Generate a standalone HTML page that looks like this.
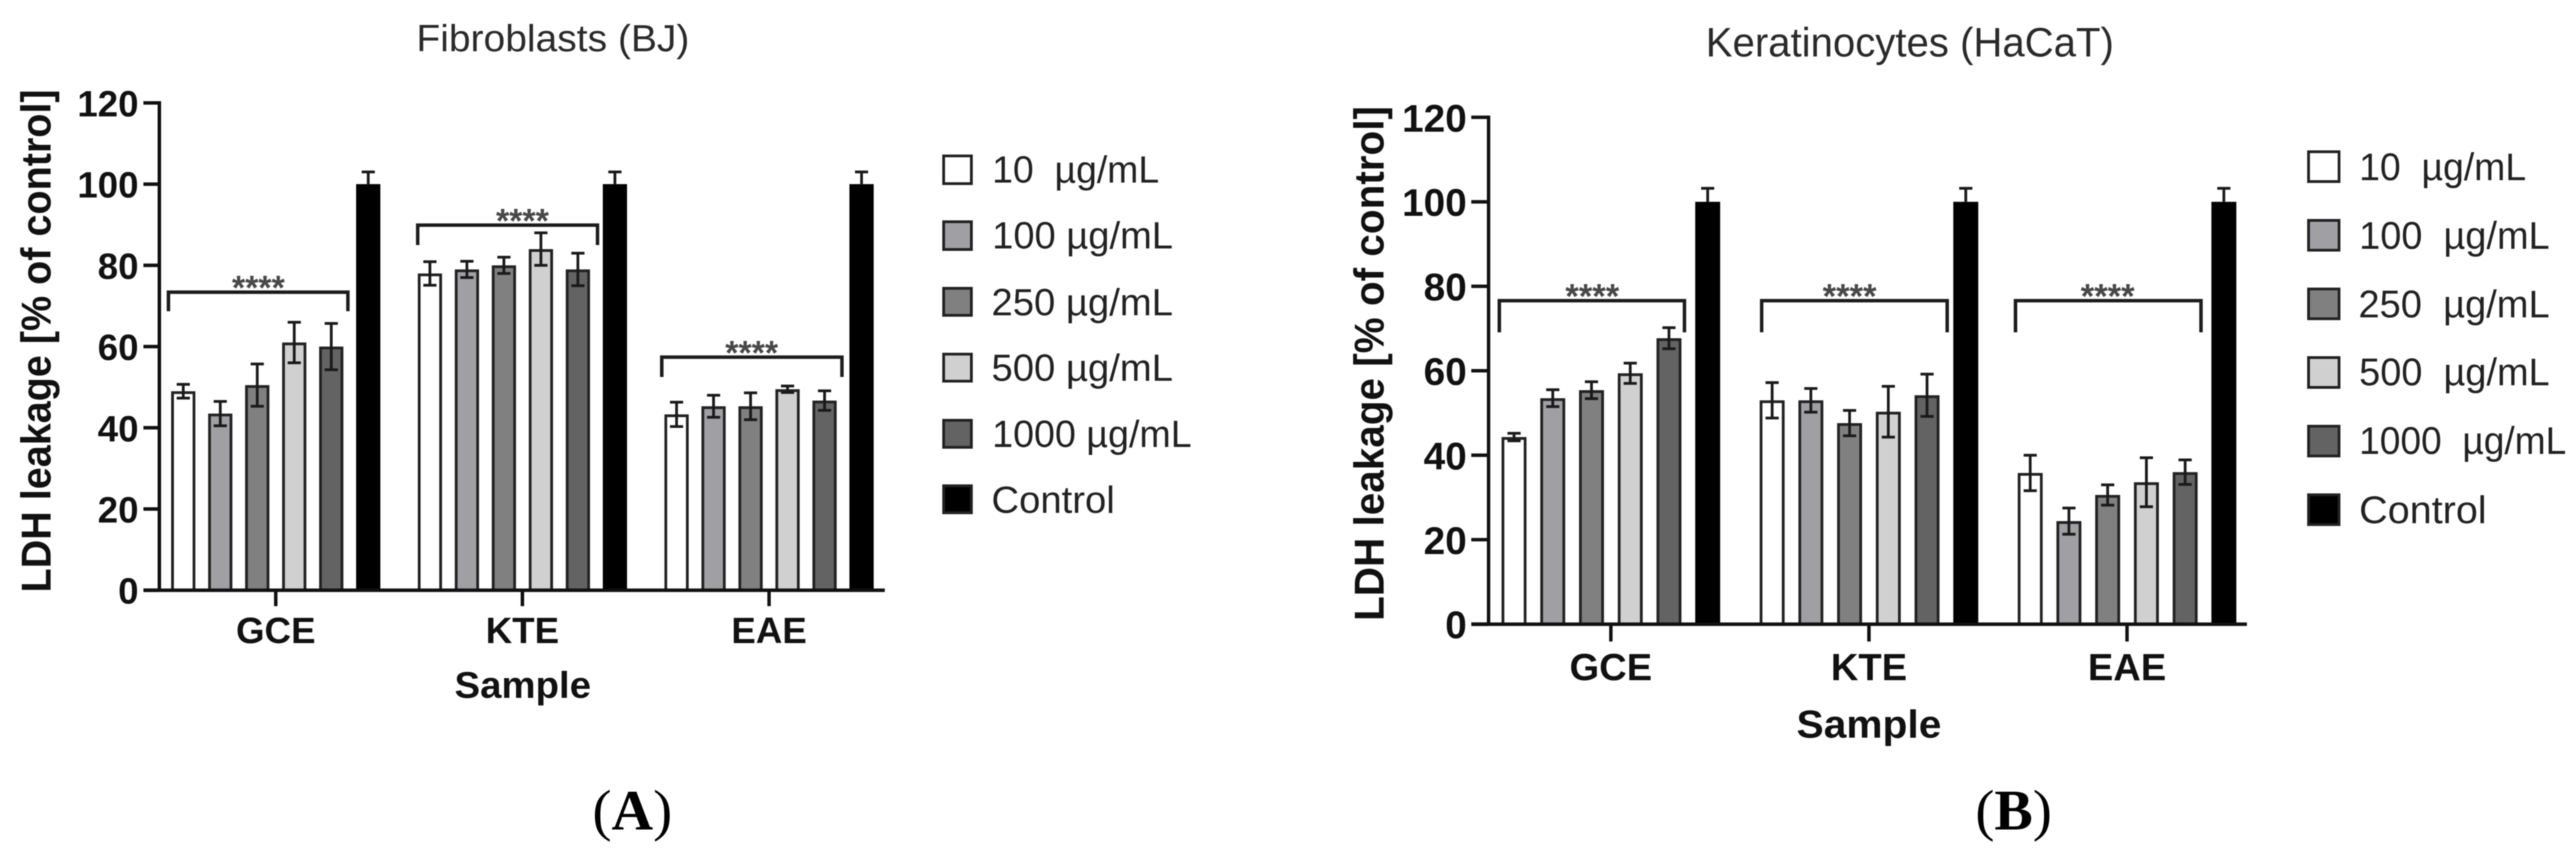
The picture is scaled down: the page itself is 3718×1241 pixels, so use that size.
<!DOCTYPE html>
<html lang="en">
<head>
<meta charset="utf-8">
<title>LDH leakage charts</title>
<style>
html,body{margin:0;padding:0;background:#fff;}
#figure{display:block;width:3718px;height:1241px;filter:blur(0.9px);}
text{font-family:"Liberation Sans",sans-serif;}
.tick{font-weight:bold;fill:#111;}
.ax{font-weight:bold;fill:#111;}
.ttl{fill:#2a2a2a;}
.leg{fill:#222;}
.sw{stroke:#222;stroke-width:4;}
.pl{font-family:"Liberation Serif",serif;font-size:83px;fill:#000;}
.plb{font-weight:bold;}
</style>
</head>
<body>
<svg id="figure" xmlns="http://www.w3.org/2000/svg" width="3718" height="1241" viewBox="0 0 3718 1241">
  <rect x="0" y="0" width="3718" height="1241" fill="#fff"/>

  <text class="ttl" font-size="55" x="601" y="74" textLength="394" lengthAdjust="spacingAndGlyphs">Fibroblasts (BJ)</text>
  <text class="ax" font-size="60" transform="translate(73,855) rotate(-90)" textLength="726" lengthAdjust="spacingAndGlyphs">LDH leakage [% of control]</text>
  <text class="ax" font-size="54" x="656" y="1007" textLength="197" lengthAdjust="spacingAndGlyphs">Sample</text>
  <text class="pl" x="855" y="1197">(<tspan class="plb">A</tspan>)</text>

  <g font-size="55">
    <rect class="sw" x="1362" y="225" width="40" height="40" fill="#ffffff"/>
    <text class="leg" x="1432" y="263.5" textLength="241" lengthAdjust="spacingAndGlyphs">10&#160;&#160;µg/mL</text>
    <rect class="sw" x="1362" y="320" width="40" height="40" fill="#a0a0a4"/>
    <text class="leg" x="1432" y="358.5" textLength="261" lengthAdjust="spacingAndGlyphs">100&#160;µg/mL</text>
    <rect class="sw" x="1362" y="416" width="40" height="39" fill="#808080"/>
    <text class="leg" x="1431" y="455" textLength="262" lengthAdjust="spacingAndGlyphs">250&#160;µg/mL</text>
    <rect class="sw" x="1362" y="511" width="40" height="39" fill="#d0d0d0"/>
    <text class="leg" x="1431" y="549.5" textLength="262" lengthAdjust="spacingAndGlyphs">500&#160;µg/mL</text>
    <rect class="sw" x="1362" y="606.5" width="40" height="39" fill="#636363"/>
    <text class="leg" x="1432" y="645" textLength="288" lengthAdjust="spacingAndGlyphs">1000&#160;µg/mL</text>
    <rect class="sw" x="1362" y="701" width="40" height="39" fill="#000000"/>
    <text class="leg" x="1431" y="740" textLength="178" lengthAdjust="spacingAndGlyphs">Control</text>
  </g>

  <text class="ttl" font-size="59" x="2462" y="81.5" textLength="589" lengthAdjust="spacingAndGlyphs">Keratinocytes (HaCaT)</text>
  <text class="ax" font-size="60" transform="translate(1997,896) rotate(-90)" textLength="743" lengthAdjust="spacingAndGlyphs">LDH leakage [% of control]</text>
  <text class="ax" font-size="57" x="2593" y="1064.5" textLength="209" lengthAdjust="spacingAndGlyphs">Sample</text>
  <text class="pl" x="2851" y="1197">(<tspan class="plb">B</tspan>)</text>

  <g font-size="56">
    <rect class="sw" x="3332" y="219" width="44" height="43" fill="#ffffff"/>
    <text class="leg" x="3405" y="260" textLength="241" lengthAdjust="spacingAndGlyphs">10&#160;&#160;µg/mL</text>
    <rect class="sw" x="3332" y="318" width="44" height="43" fill="#a0a0a4"/>
    <text class="leg" x="3405" y="359" textLength="275" lengthAdjust="spacingAndGlyphs">100&#160;&#160;µg/mL</text>
    <rect class="sw" x="3332" y="417" width="44" height="43" fill="#808080"/>
    <text class="leg" x="3404" y="458" textLength="276" lengthAdjust="spacingAndGlyphs">250&#160;&#160;µg/mL</text>
    <rect class="sw" x="3332" y="516" width="44" height="43" fill="#d0d0d0"/>
    <text class="leg" x="3405" y="556" textLength="275" lengthAdjust="spacingAndGlyphs">500&#160;&#160;µg/mL</text>
    <rect class="sw" x="3332" y="615" width="44" height="43" fill="#636363"/>
    <text class="leg" x="3405" y="655" textLength="299" lengthAdjust="spacingAndGlyphs">1000&#160;&#160;µg/mL</text>
    <rect class="sw" x="3332" y="714" width="44" height="43" fill="#000000"/>
    <text class="leg" x="3405" y="755" textLength="184" lengthAdjust="spacingAndGlyphs">Control</text>
  </g>
</svg>

<script>
const categories = ['GCE', 'KTE', 'EAE'];
const seriesKeys = ['10', '100', '250', '500', '1000', 'control'];
const seriesFills = ['#ffffff', '#a0a0a4', '#808080', '#d0d0d0', '#636363', '#000000'];
const yTickValues = [0, 20, 40, 60, 80, 100, 120];
const yTickLabels = ['0', '20', '40', '60', '80', '100', '120'];

const fibroblastGCE = [49, 43.5, 50.5, 61, 60, 100];
const fibroblastKTE = [78, 79, 80, 84, 79, 100];
const fibroblastEAE = [43.3, 45.3, 45.3, 49.5, 46.7, 100];
const fibroblastErrGCE = [1.7, 3, 5.2, 5, 5.7, 3];
const fibroblastErrKTE = [2.9, 2, 2, 4, 4, 3];
const fibroblastErrEAE = [3, 2.7, 3.3, 0.8, 2.4, 3];
const fibroblastBracketTop = [73.4, 89.9, 57.4];
const fibroblastBracketFoot = [68.7, 85, 52.5];
const fibroblastBracketFromSlot = [-0.40, -0.33, -0.40];
const fibroblastBracketToSlot = [4.45, 4.53, 4.47];
const fibroblastStarSlot = [2.03, 2.5, 2.03];

const keratinocyteGCE = [44.3, 53.5, 55.4, 59.4, 67.7, 100];
const keratinocyteKTE = [53, 53, 47.6, 50.3, 54.2, 100];
const keratinocyteEAE = [35.8, 24.4, 30.6, 33.6, 36, 100];
const keratinocyteErrGCE = [0.9, 2, 2, 2.4, 2.5, 3.2];
const keratinocyteErrKTE = [4.2, 2.8, 3, 6, 5, 3.2];
const keratinocyteErrEAE = [4.2, 3.1, 2.4, 5.8, 2.9, 3.2];
const keratinocyteBracketTop = [76.6, 76.6, 76.6];
const keratinocyteBracketFoot = [69.1, 69.1, 69.1];
const keratinocyteBracketFromSlot = [-0.38, -0.27, -0.38];
const keratinocyteBracketToSlot = [4.40, 4.52, 4.41];
const keratinocyteStarSlot = [2.02, 2.0, 2.0];

const NS = 'http://www.w3.org/2000/svg';
const svg = document.getElementById('figure');

function make(parent, tag, attrs, txt) {
  const el = document.createElementNS(NS, tag);
  for (const k in attrs) el.setAttribute(k, attrs[k]);
  if (txt !== undefined) el.textContent = txt;
  parent.appendChild(el);
  return el;
}

function drawPanel(p) {
  const yOf = v => p.y0 - v * p.unit;
  const groupX = g => p.x0 + g * p.groupStep;
  const slotX = (g, s) => groupX(g) + (s - 2.5) * p.barStep;

  const root = make(svg, 'g', {});
  
  

  categories.forEach((cat, g) => {
    p.means[g].forEach((v, s) => {
      const cx = slotX(g, s);
      const bar = make(root, 'rect', {
        x: cx - p.barW / 2 + 2, y: yOf(v) + 2,
        width: p.barW - 4, height: Math.max(0, v * p.unit - 2),
        fill: seriesFills[s], stroke: s === 5 ? '#000' : '#222', 'stroke-width': 4
      });
      
      
    });
    p.means[g].forEach((v, s) => {
      const cx = slotX(g, s);
      const e = p.errs[g][s];
      const low = s === 5 ? v : v - e;
      const eb = make(root, 'path', {
        d: 'M' + cx + ' ' + yOf(low) + 'V' + yOf(v + e) +
           'M' + (cx - p.cap) + ' ' + yOf(v + e) + 'H' + (cx + p.cap) +
           (s === 5 ? '' : 'M' + (cx - p.cap) + ' ' + yOf(low) + 'H' + (cx + p.cap)),
        fill: 'none', stroke: '#1a1a1a', 'stroke-width': 4
      });
      
      
    });

    const bx0 = slotX(g, p.brFrom[g]);
    const bx1 = slotX(g, p.brTo[g]);
    const bt = yOf(p.brTop[g]);
    const bb = yOf(p.brFoot[g]);
    const br = make(root, 'path', {
      d: 'M' + bx0 + ' ' + bb + 'V' + bt + 'H' + bx1 + 'V' + bb,
      fill: 'none', stroke: '#1c1c1c', 'stroke-width': 5
    });
    
    
    const st = make(root, 'text', {
      x: slotX(g, p.starSlot[g]), y: bt + 10.5, 'text-anchor': 'middle',
      'font-size': p.starFont, 'font-weight': 'bold', fill: '#484848'
    }, '****');
    
    

    const tk = make(root, 'line', {
      x1: groupX(g), x2: groupX(g), y1: p.y0, y2: p.y0 + p.tickLen,
      stroke: '#111', 'stroke-width': 5
    });
    
    
    const lb = make(root, 'text', {
      x: groupX(g), y: p.catBaseline, 'text-anchor': 'middle',
      class: 'ax', 'font-size': p.catFont
    }, cat);
    
    
  });

  yTickValues.forEach((v, i) => {
    const tk = make(root, 'line', {
      x1: p.axisX - p.tickLen, x2: p.axisX, y1: yOf(v), y2: yOf(v),
      stroke: '#111', 'stroke-width': 5
    });
    
    
    const lb = make(root, 'text', {
      x: p.tickRight, y: yOf(v) + p.tickDrop, 'text-anchor': 'end',
      class: 'tick', 'font-size': p.tickFont
    }, yTickLabels[i]);
    
    
  });

  const ya = make(root, 'line', {
    x1: p.axisX, x2: p.axisX, y1: yOf(120) - 2.5, y2: p.y0,
    stroke: '#111', 'stroke-width': 5
  });
  
  
  const xa = make(root, 'line', {
    x1: p.axisX - p.tickLen, x2: p.axisEnd, y1: p.y0, y2: p.y0,
    stroke: '#111', 'stroke-width': 5
  });
  
  
}

drawPanel({
  name: 'fibroblasts',
  means: [fibroblastGCE, fibroblastKTE, fibroblastEAE],
  errs: [fibroblastErrGCE, fibroblastErrKTE, fibroblastErrEAE],
  brTop: fibroblastBracketTop, brFoot: fibroblastBracketFoot,
  brFrom: fibroblastBracketFromSlot, brTo: fibroblastBracketToSlot,
  starSlot: fibroblastStarSlot,
  y0: 851.7, unit: 5.86, x0: 398, groupStep: 356, barStep: 53.4, barW: 35, cap: 9.5,
  axisX: 230, axisEnd: 1277, tickLen: 23, tickRight: 200, tickFont: 53, tickDrop: 19.5,
  catFont: 53, catBaseline: 928, starFont: 49
});

drawPanel({
  name: 'keratinocytes',
  means: [keratinocyteGCE, keratinocyteKTE, keratinocyteEAE],
  errs: [keratinocyteErrGCE, keratinocyteErrKTE, keratinocyteErrEAE],
  brTop: keratinocyteBracketTop, brFoot: keratinocyteBracketFoot,
  brFrom: keratinocyteBracketFromSlot, brTo: keratinocyteBracketToSlot,
  starSlot: keratinocyteStarSlot,
  y0: 900.7, unit: 6.095, x0: 2325, groupStep: 372.5, barStep: 55.9, barW: 36, cap: 9.5,
  axisX: 2148.5, axisEnd: 3243, tickLen: 25, tickRight: 2117, tickFont: 56, tickDrop: 20.5,
  catFont: 55, catBaseline: 981.5, starFont: 50
});
</script>
</body>
</html>
